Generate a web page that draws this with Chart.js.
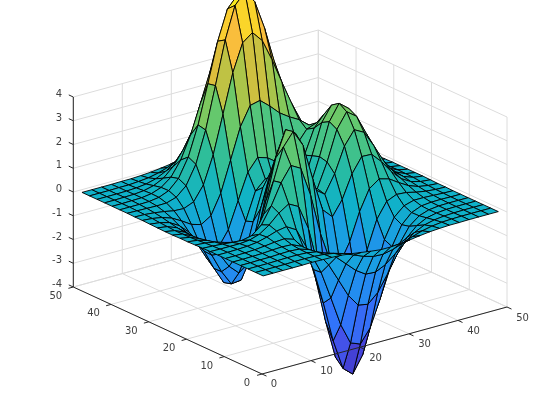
<!DOCTYPE html>
<html><head><meta charset="utf-8">
<style>html,body{margin:0;padding:0;background:#fff}canvas{display:block}</style>
<script src="https://cdn.jsdelivr.net/npm/chart.js@4/dist/chart.umd.min.js"></script>
</head><body><canvas id="c" width="560" height="420"></canvas>
<script>
const xTicks=[0,10,20,30,40,50];
const yTicks=[0,10,20,30,40,50];
const zTicks=[-4,-3,-2,-1,0,1,2,3,4];
const gridX=[1,3,5,7,9,11,13,15,17,19,21,23,25,27,29,31,33,35,37,39,41,43,45,47,49];
const gridY=[1,3,5,7,9,11,13,15,17,19,21,23,25,27,29,31,33,35,37,39,41,43,45,47,49];
const row01=[0,0,0,0,0,.01,0,-.01,-.03,-.08,-.14,-.2,-.25,-.25,-.22,-.17,-.11,-.06,-.03,-.01,-.01,0,0,0,0];
const row02=[0,0,0,0,.01,.01,0,-.03,-.1,-.22,-.39,-.56,-.68,-.7,-.61,-.46,-.3,-.17,-.08,-.03,-.01,0,0,0,0];
const row03=[0,0,0,.01,.02,.02,0,-.07,-.24,-.52,-.91,-1.3,-1.57,-1.6,-1.4,-1.06,-.69,-.38,-.18,-.08,-.03,-.01,0,0,0];
const row04=[0,0,.01,.01,.03,.04,.01,-.12,-.44,-.99,-1.74,-2.5,-3.02,-3.1,-2.72,-2.05,-1.32,-.74,-.35,-.14,-.05,-.01,0,0,0];
const row05=[0,0,.01,.02,.05,.07,.05,-.13,-.59,-1.45,-2.64,-3.88,-4.76,-4.92,-4.35,-3.27,-2.1,-1.15,-.53,-.2,-.06,-.01,0,0,0];
const row06=[0,0,.01,.03,.07,.12,.15,.02,-.47,-1.48,-3,-4.7,-5.98,-6.33,-5.64,-4.25,-2.69,-1.42,-.61,-.21,-.04,0,.01,0,0];
const row07=[0,0,.01,.03,.08,.19,.33,.4,.16,-.66,-2.16,-4.04,-5.65,-6.29,-5.74,-4.3,-2.63,-1.27,-.44,-.07,.05,.05,.03,.01,0];
const row08=[0,-.01,-.01,-.01,.03,.16,.44,.83,1.1,.88,-.15,-1.86,-3.62,-4.61,-4.41,-3.23,-1.74,-.56,.08,.26,.23,.13,.06,.02,.01];
const row09=[-.01,-.03,-.06,-.1,-.13,-.04,.3,.99,1.85,2.46,2.23,.99,-.73,-2.02,-2.22,-1.43,-.28,.58,.88,.77,.5,.26,.11,.04,.01];
const row10=[-.02,-.05,-.12,-.25,-.42,-.51,-.28,.49,1.78,3.09,3.63,2.94,1.4,0,-.41,.2,1.17,1.79,1.77,1.35,.82,.41,.17,.06,.02];
const row11=[-.03,-.08,-.2,-.44,-.8,-1.16,-1.21,-.6,.8,2.49,3.56,3.3,2,.7,.39,1.14,2.19,2.77,2.55,1.87,1.12,.56,.24,.09,.03];
const row12=[-.03,-.1,-.27,-.6,-1.14,-1.77,-2.16,-1.84,-.56,1.24,2.56,2.63,1.59,.53,.48,1.49,2.75,3.38,3.08,2.24,1.34,.67,.28,.1,.03];
const row13=[-.04,-.11,-.3,-.69,-1.33,-2.14,-2.77,-2.72,-1.65,.07,1.48,1.75,.98,.19,.38,1.57,2.93,3.59,3.26,2.37,1.41,.7,.3,.11,.03];
const row14=[-.04,-.11,-.29,-.67,-1.31,-2.15,-2.86,-2.98,-2.14,-.64,.69,1.06,.52,-.03,.28,1.46,2.75,3.37,3.05,2.21,1.32,.65,.28,.1,.03];
const row15=[-.03,-.09,-.25,-.57,-1.12,-1.85,-2.49,-2.64,-2,-.76,.39,.79,.46,.09,.38,1.34,2.37,2.84,2.55,1.84,1.09,.54,.23,.08,.03];
const row16=[-.02,-.07,-.18,-.42,-.81,-1.33,-1.76,-1.78,-1.16,-.05,1.04,1.55,1.42,1.12,1.17,1.65,2.17,2.33,1.99,1.4,.82,.4,.17,.06,.02];
const row17=[-.01,-.04,-.11,-.25,-.48,-.74,-.86,-.6,.23,1.51,2.8,3.59,3.69,3.34,2.94,2.66,2.43,2.09,1.58,1.04,.58,.28,.11,.04,.01];
const row18=[-.01,-.02,-.06,-.12,-.2,-.22,-.05,.55,1.7,3.3,4.93,6.08,6.4,5.95,5.03,3.98,2.97,2.1,1.35,.79,.41,.19,.07,.03,.01];
const row19=[0,-.01,-.02,-.03,-.02,.11,.48,1.27,2.6,4.36,6.17,7.51,7.96,7.45,6.23,4.7,3.24,2.05,1.18,.62,.29,.12,.05,.02,0];
const row20=[0,0,0,.01,.07,.24,.64,1.43,2.67,4.29,5.97,7.22,7.68,7.2,5.99,4.45,2.96,1.78,.96,.47,.2,.08,.03,.01,0];
const row21=[0,0,.01,.02,.08,.23,.55,1.16,2.1,3.31,4.56,5.5,5.86,5.49,4.57,3.37,2.21,1.29,.67,.32,.13,.05,.02,.01,0];
const row22=[0,0,.01,.02,.06,.16,.36,.74,1.32,2.07,2.84,3.43,3.65,3.43,2.84,2.09,1.36,.79,.4,.19,.08,.03,.01,0,0];
const row23=[0,0,0,.01,.03,.08,.19,.39,.69,1.07,1.46,1.77,1.88,1.76,1.47,1.07,.7,.4,.2,.09,.04,.01,0,0,0];
const row24=[0,0,0,.01,.01,.04,.08,.17,.3,.47,.64,.77,.82,.77,.64,.47,.3,.17,.09,.04,.02,.01,0,0,0];
const row25=[0,0,0,0,.01,.01,.03,.06,.11,.17,.23,.28,.3,.28,.23,.17,.11,.06,.03,.01,.01,0,0,0,0];
const Z=[row01,row02,row03,row04,row05,row06,row07,row08,row09,row10,row11,row12,row13,row14,row15,row16,row17,row18,row19,row20,row21,row22,row23,row24,row25];

// orthographic view of the plot box onto the page
const O={x:262,y:374}, UX={x:4.9,y:-1.34}, UY={x:-3.774,y:-1.74}, UZ=23.75, ZB=-4;
const P=(x,y,z)=>({x:O.x+x*UX.x+y*UY.x, y:O.y+x*UX.y+y*UY.y-(z-ZB)*UZ});

const CLIM=[-6.55,8.1];
const PAL=[[0,62,38,168],[.1,71,75,230],[.2,50,115,250],[.3,35,140,240],[.38,25,160,225],[.45,15,178,200],[.55,45,190,155],[.65,100,200,110],[.72,150,200,80],[.8,220,190,60],[.87,250,190,60],[.93,250,215,40],[1,249,251,21]];
function color(z){
  const t=Math.max(0,Math.min(1,(z-CLIM[0])/(CLIM[1]-CLIM[0])));
  for(let i=1;i<PAL.length;i++){ if(t<=PAL[i][0]){
    const a=PAL[i-1],b=PAL[i],f=(t-a[0])/(b[0]-a[0]);
    return `rgb(${[1,2,3].map(k=>Math.round(a[k]+(b[k]-a[k])*f)).join(',')})`;
  }}
  return 'rgb(249,251,21)';
}
const line=(pts,col,w)=>({data:pts,borderColor:col,borderWidth:w,pointRadius:0,fill:false,tension:0,showLine:true});
const GRID='#dcdcdc', AX='#262626';
const xMax=xTicks[xTicks.length-1], yMax=yTicks[yTicks.length-1], z0=zTicks[0], z1=zTicks[zTicks.length-1];
const ds=[];
// floor and back walls
xTicks.forEach(v=>{ds.push(line([P(v,0,z0),P(v,yMax,z0)],GRID,1));ds.push(line([P(v,yMax,z0),P(v,yMax,z1)],GRID,1));});
yTicks.forEach(v=>{ds.push(line([P(0,v,z0),P(xMax,v,z0)],GRID,1));ds.push(line([P(xMax,v,z0),P(xMax,v,z1)],GRID,1));});
zTicks.forEach(v=>{ds.push(line([P(0,yMax,v),P(xMax,yMax,v)],GRID,1));ds.push(line([P(xMax,0,v),P(xMax,yMax,v)],GRID,1));});
// surface, far cells first
for(let j=gridY.length-2;j>=0;j--){
  for(let i=gridX.length-2;i>=0;i--){
    const a=Z[j][i],b=Z[j][i+1],c=Z[j+1][i+1],d=Z[j+1][i];
    const pts=[P(gridX[i],gridY[j],a),P(gridX[i+1],gridY[j],b),P(gridX[i+1],gridY[j+1],c),P(gridX[i],gridY[j+1],d),P(gridX[i],gridY[j],a)];
    ds.push({data:pts,borderColor:'#000',borderWidth:.9,backgroundColor:color((a+b+c+d)/4),fill:'shape',pointRadius:0,tension:0,showLine:true,borderJoinStyle:'round'});
  }
}
// axes and tick marks on top
ds.push(line([P(0,0,z0),P(xMax,0,z0)],AX,1));
ds.push(line([P(0,0,z0),P(0,yMax,z0)],AX,1));
ds.push(line([P(0,yMax,z0),P(0,yMax,z1)],AX,1));
xTicks.forEach(v=>ds.push(line([P(v,0,z0),P(v,-1.2,z0)],AX,1)));
yTicks.forEach(v=>ds.push(line([P(0,v,z0),P(-1,v,z0)],AX,1)));
zTicks.forEach(v=>ds.push(line([P(0,yMax,v),P(0,yMax+1.2,v)],AX,1)));
ds.reverse();

const tickText={id:'tickText',afterDraw(ch){
  const c=ch.ctx,sx=ch.scales.x,sy=ch.scales.y;
  c.save();c.font='10px "DejaVu Sans"';c.fillStyle='#404040';c.textBaseline='middle';
  c.textAlign='center';
  xTicks.forEach(v=>{const p=P(v,0,z0);c.fillText(String(v),sx.getPixelForValue(p.x)+(v===0?12:15.5),sy.getPixelForValue(p.y)+(v===0?10:11));});
  yTicks.forEach(v=>{const p=P(0,v,z0);c.fillText(String(v),sx.getPixelForValue(p.x)+(v===0?-15:-17.5),sy.getPixelForValue(p.y)+9.5);});
  c.textAlign='right';
  zTicks.forEach(v=>{const p=P(0,yMax,v);c.fillText(String(v),62,sy.getPixelForValue(p.y)-2.5);});
  c.restore();
}};
new Chart(document.getElementById('c'),{
  type:'scatter',
  data:{datasets:ds},
  plugins:[tickText],
  options:{
    responsive:false,animation:false,events:[],
    layout:{padding:0},
    plugins:{legend:{display:false},tooltip:{enabled:false},title:{display:false},filler:{drawTime:'beforeDatasetDraw'}},
    scales:{
      x:{type:'linear',min:0,max:560,display:false},
      y:{type:'linear',min:0,max:420,reverse:true,display:false}
    }
  }
});
</script></body></html>
